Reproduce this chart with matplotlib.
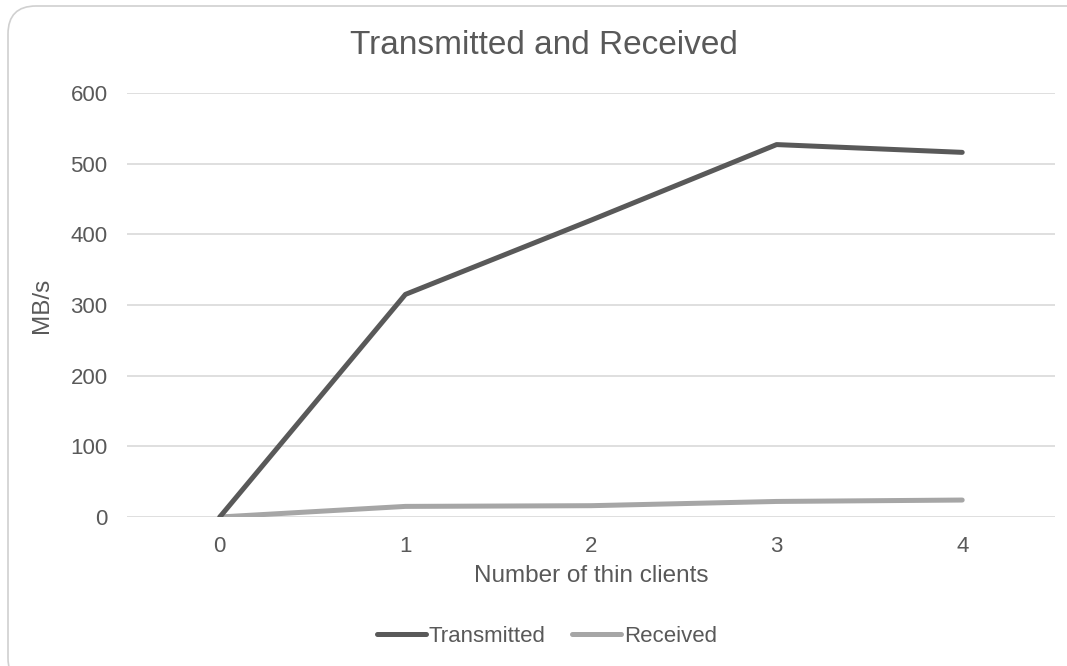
import numpy as np
import matplotlib.pyplot as plt
from matplotlib.patches import FancyBboxPatch
from matplotlib.transforms import IdentityTransform
from matplotlib.lines import Line2D

plt.rcParams['font.family'] = ['Liberation Sans', 'DejaVu Sans']

clients = [0, 1, 2, 3, 4]
transmitted = [0, 315, 420, 527, 516]
received = [0, 15, 16, 22, 24]

text_col = '#595959'
grid_col = '#d9d9d9'

fig = plt.figure(figsize=(10.67, 6.66), dpi=100)
ax = fig.add_axes([127 / 1067, 1 - 517 / 666, (1055 - 127) / 1067, (517 - 93) / 666])

ax.plot(clients, transmitted, color='#595959', lw=3.6, solid_capstyle='round',
        solid_joinstyle='round', label='Transmitted', zorder=3)
ax.plot(clients, received, color='#a6a6a6', lw=3.6, solid_capstyle='round',
        solid_joinstyle='round', label='Received', zorder=2)

ax.set_xlim(-0.5, 4.5)
ax.set_ylim(0, 600)
ax.set_xticks(clients)
ax.set_yticks(np.arange(0, 601, 100))
ax.yaxis.grid(True, color=grid_col, lw=1.2)
ax.set_axisbelow(True)
for s in ax.spines.values():
    s.set_visible(False)
ax.tick_params(length=0, labelsize=16, colors=text_col)
ax.tick_params(axis='x', pad=14)
ax.tick_params(axis='y', pad=14)

ax.set_xlabel('Number of thin clients', fontsize=17.5, color=text_col, va='center')
ax.xaxis.set_label_coords(0.5, -59 / 424)
ax.set_ylabel('MB/s', fontsize=17.5, color=text_col, va='center')
ax.yaxis.set_label_coords(-85 / 928, 0.5)
fig.text(544 / 1067, 1 - 45 / 666, 'Transmitted and Received', fontsize=24,
         color=text_col, ha='center', va='center')

handles = [Line2D([], [], color='#595959', lw=3.6, solid_capstyle='round'),
           Line2D([], [], color='#a6a6a6', lw=3.6, solid_capstyle='round')]
fig.legend(handles, ['Transmitted', 'Received'], loc='center',
           bbox_to_anchor=(547 / 1067, 1 - 636 / 666), ncol=2, frameon=False,
           fontsize=16, labelcolor=text_col, handlelength=2.2, handletextpad=0.12,
           columnspacing=1.2)

# rounded card outline around the chart (pixel coordinates)
r = 28
card = FancyBboxPatch((8 + r, -20 + r), 1100 - 8 - 2 * r, 660 + 20 - 2 * r,
                      boxstyle=f'round,pad={r}', transform=IdentityTransform(),
                      fc='none', ec='#d0d0d0', lw=1.2, clip_on=False)
fig.patches.append(card)

fig.savefig('out.png', dpi=100)
